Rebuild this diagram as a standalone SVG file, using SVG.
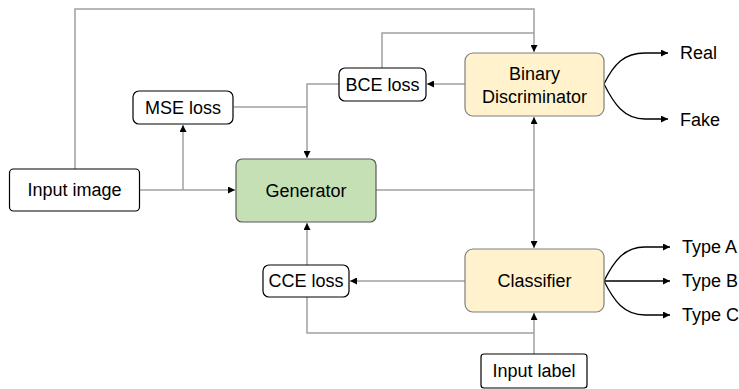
<svg xmlns="http://www.w3.org/2000/svg" width="739" height="389" viewBox="0 0 739 389">
<defs>
<marker id="ah" viewBox="0 0 10 10" refX="10" refY="5" markerWidth="7" markerHeight="7" markerUnits="userSpaceOnUse" orient="auto">
<path d="M0,0 L10,5 L0,10 Z" fill="#000"/>
</marker>
</defs>
<style>
.box{fill:#fff;stroke:#000;stroke-width:1.2}
.yel{fill:#FFF2CC;stroke:#7F7F7F;stroke-width:1.2}
.grn{fill:#C5E0B4;stroke:#595959;stroke-width:1.2}
.ln{fill:none;stroke:#A0A0A0;stroke-width:1.5}
.cv{fill:none;stroke:#000;stroke-width:1.3}
text{font-family:"Liberation Sans",Arial,sans-serif;font-size:18px;fill:#000;text-anchor:middle;dominant-baseline:central}
.lb{text-anchor:start}
</style>
<g id="connectors">
<path class="ln" d="M75,169 V9 H534 V52" marker-end="url(#ah)"/>
<path class="ln" d="M382,68 V33 H534"/>
<path class="ln" d="M465,84 H427" marker-end="url(#ah)"/>
<path class="ln" d="M339,84 H307 V158" marker-end="url(#ah)"/>
<path class="ln" d="M234,107 H307"/>
<path class="ln" d="M139,190 H235" marker-end="url(#ah)"/>
<path class="ln" d="M183,190 V125" marker-end="url(#ah)"/>
<path class="ln" d="M376,190 H534"/>
<path class="ln" d="M534,190 V117" marker-end="url(#ah)"/>
<path class="ln" d="M534,190 V248" marker-end="url(#ah)"/>
<path class="ln" d="M465,281 H350" marker-end="url(#ah)"/>
<path class="ln" d="M307,265 V223" marker-end="url(#ah)"/>
<path class="ln" d="M307,297 V333 H534"/>
<path class="ln" d="M534,354 V313" marker-end="url(#ah)"/>
<path class="cv" d="M604,84 C614,64 624,53 645,53 H668" marker-end="url(#ah)"/>
<path class="cv" d="M604,84 C614,104 624,119 645,119 H668" marker-end="url(#ah)"/>
<path class="cv" d="M604,281 C614,261 624,247 645,247 H670" marker-end="url(#ah)"/>
<path class="cv" d="M604,281 H670" marker-end="url(#ah)"/>
<path class="cv" d="M604,281 C614,301 624,315 645,315 H670" marker-end="url(#ah)"/>
</g>
<g id="input-image"><rect class="box" x="9.5" y="169" width="130" height="42" rx="4"/><text x="74.5" y="190">Input image</text></g>
<g id="mse-loss"><rect class="box" x="133" y="91" width="100" height="33" rx="6"/><text x="183" y="107.5">MSE loss</text></g>
<g id="bce-loss"><rect class="box" x="339" y="68" width="87" height="33" rx="6"/><text x="382.5" y="84.5">BCE loss</text></g>
<g id="generator"><rect class="grn" x="236" y="159" width="140" height="63" rx="6"/><text x="306" y="190.5">Generator</text></g>
<g id="binary-discriminator"><rect class="yel" x="465" y="53" width="139" height="63" rx="8"/><text x="534.5" y="74">Binary</text><text x="534.5" y="97">Discriminator</text></g>
<g id="classifier"><rect class="yel" x="465" y="249" width="139" height="63" rx="8"/><text x="534.5" y="281">Classifier</text></g>
<g id="cce-loss"><rect class="box" x="263" y="265" width="86" height="32" rx="6"/><text x="306" y="281">CCE loss</text></g>
<g id="input-label"><rect class="box" x="481" y="354" width="106" height="34" rx="3"/><text x="534" y="371">Input label</text></g>
<g id="outputs">
<text class="lb" x="680" y="53">Real</text>
<text class="lb" x="680" y="120">Fake</text>
<text class="lb" x="682" y="247">Type A</text>
<text class="lb" x="682" y="281">Type B</text>
<text class="lb" x="682" y="315">Type C</text>
</g>
</svg>
